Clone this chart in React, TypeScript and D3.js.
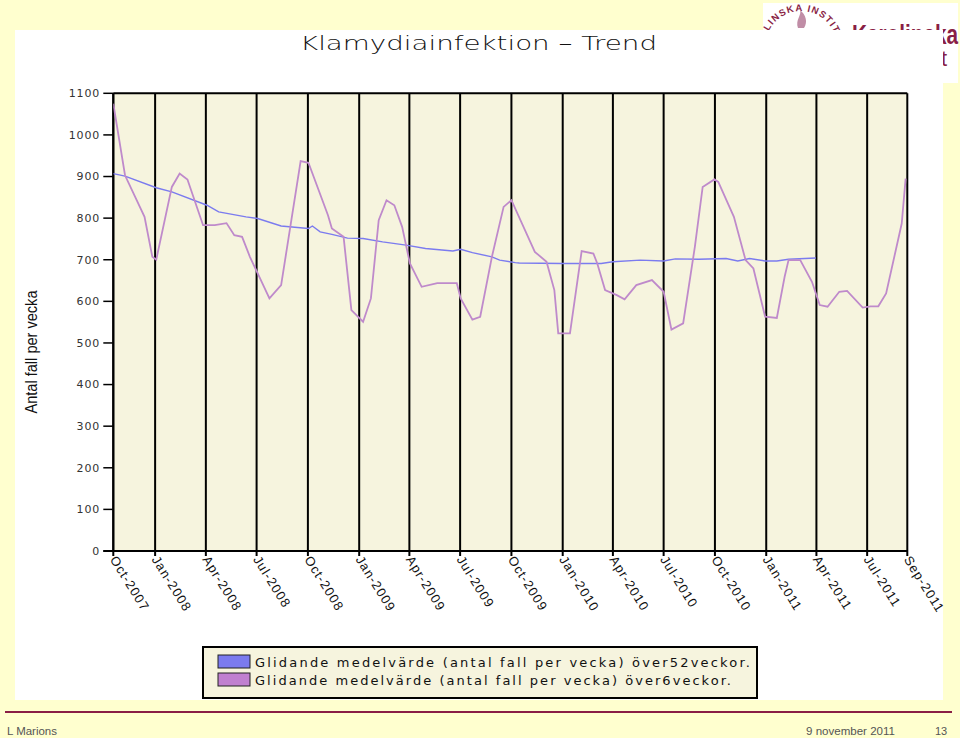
import React from "react";
import * as d3 from "d3";

// ---- data ----
const START_DATE = "2007-10-18";
const END_DATE = "2011-09-11";

const tickDates = [
  "2007-10-18", "2008-01-01", "2008-04-01", "2008-07-01", "2008-10-01",
  "2009-01-01", "2009-04-01", "2009-07-01", "2009-10-01", "2010-01-01",
  "2010-04-01", "2010-07-01", "2010-10-01", "2011-01-01", "2011-04-01",
  "2011-07-01", "2011-09-11",
];
const tickLabels = [
  "Oct-2007", "Jan-2008", "Apr-2008", "Jul-2008", "Oct-2008",
  "Jan-2009", "Apr-2009", "Jul-2009", "Oct-2009", "Jan-2010",
  "Apr-2010", "Jul-2010", "Oct-2010", "Jan-2011", "Apr-2011",
  "Jul-2011", "Sep-2011",
];
const yTicks = [0, 100, 200, 300, 400, 500, 600, 700, 800, 900, 1000, 1100];

// weeks since START_DATE, 6-week moving average
const weeks6 = [
  0, 3, 8, 10, 11, 15, 17, 19, 23, 26, 29, 31, 33, 35, 37, 40, 43, 48, 50, 55,
  56, 59, 61, 64, 66, 68, 70, 72, 74, 76, 79, 83, 88, 89, 92, 94, 97, 100, 102, 108,
  111, 113, 114, 117, 120, 123, 124, 126, 129, 131, 134, 138, 141, 143, 146, 149, 151, 154, 155, 159,
  162, 164, 167, 170, 172, 173, 176, 179, 181, 183, 186, 188, 192, 194, 196, 198, 202, 203,
];
const values6 = [
  1075, 903, 803, 707, 700, 875, 907, 893, 783, 783, 788, 759, 755, 707, 667, 607, 639, 937, 933, 807,
  775, 755, 579, 551, 607, 795, 843, 831, 779, 691, 635, 644, 644, 607, 556, 563, 707, 827, 843, 719,
  695, 627, 523, 523, 721, 715, 691, 627, 615, 605, 639, 651, 623, 532, 547, 731, 875, 893, 887, 803,
  699, 679, 563, 560, 659, 699, 699, 647, 591, 587, 623, 625, 585, 588, 588, 619, 787, 895,
];

// weeks since START_DATE, 52-week moving average
const weeks52 = [
  0, 3, 11, 15, 24, 27, 34, 37, 43, 50, 51, 53, 56, 60, 64, 69, 75, 80, 87, 89,
  92, 97, 99, 103, 104, 115, 120, 125, 128, 135, 141, 144, 150, 157, 160, 163, 167, 170, 173, 180,
];
const values52 = [
  907, 901, 873, 863, 831, 815, 803, 799, 781, 775, 781, 767, 761, 752, 751, 743, 735, 727, 721, 725,
  717, 707, 699, 693, 692, 691, 691, 691, 695, 699, 697, 702, 701, 703, 697, 703, 697, 697, 701, 704,
];

const legendLabels = [
  "Glidande medelvärde (antal fall per vecka) över52veckor.",
  "Glidande medelvärde (antal fall per vecka) över6veckor.",
];

// ---- layout ----
const W = 960;
const H = 738;
const L = 113.3;
const R = 907.3;
const T = 93.3;
const B = 551;

const PAGE_BG = "#FFFFCF";
const PLOT_BG = "#F6F4DE";
const BLUE = "#7B7BEF";
const PURPLE = "#BF8ACB";
const MAROON = "#8A1F45";

export default function App() {
  const parse = d3.timeParse("%Y-%m-%d");
  const start = parse(START_DATE) as Date;
  const end = parse(END_DATE) as Date;
  const x = d3.scaleTime().domain([start, end]).range([L, R]);
  const y = d3.scaleLinear().domain([0, 1100]).range([B, T]);
  const toDate = (w: number) => d3.timeDay.offset(start, w * 7);

  const line = d3
    .line<[number, number]>()
    .x((d) => x(toDate(d[0])))
    .y((d) => y(d[1]));

  const s6 = weeks6.map((w, i) => [w, values6[i]] as [number, number]);
  const s52 = weeks52.map((w, i) => [w, values52[i]] as [number, number]);
  const ticks = tickDates.map((d) => parse(d) as Date);

  const seal = `M 765 47 A 36 36 0 0 1 837 47`;

  return (
    <svg
      width={W}
      height={H}
      style={{ position: "absolute", left: 0, top: 0, display: "block" }}
      xmlns="http://www.w3.org/2000/svg"
    >
      <defs>
        <clipPath id="plotClip">
          <rect x={L} y={T} width={R - L} height={B - T} />
        </clipPath>
        <path id="sealArc" d={seal} fill="none" />
      </defs>
      <rect x={0} y={0} width={W} height={H} fill={PAGE_BG} />

      {/* logo */}
      <g>
        <rect x={763} y={3} width={195} height={80} fill="#FFFFFF" />
        <text
          fontFamily="Liberation Sans, Arial, sans-serif"
          fontSize={9.5}
          fontWeight={700}
          fill={MAROON}
          letterSpacing={1.2}
        >
          <textPath href="#sealArc" startOffset="50%" textAnchor="middle">
            KAROLINSKA INSTITUTET
          </textPath>
        </text>
        <path d="M 798 28 C 795 20 802 15 800 10 C 806 15 808 22 804 28 Z" fill="#B07090" opacity={0.8} />
        <text
          x={852}
          y={44}
          fontFamily="Liberation Sans, Arial, sans-serif"
          fontSize={27}
          fontWeight={700}
          fill={MAROON}
          textLength={106}
          lengthAdjust="spacingAndGlyphs"
        >
          Karolinska
        </text>
        <text
          x={947}
          y={66}
          textAnchor="end"
          fontFamily="Liberation Sans, Arial, sans-serif"
          fontSize={22}
          fill={MAROON}
        >
          Institutet
        </text>
      </g>

      {/* white chart panel */}
      <rect x={15} y={30} width={928} height={670} fill="#FFFFFF" />

      {/* title */}
      <text
        x={478.5}
        y={50}
        textAnchor="middle"
        fontFamily="DejaVu Sans, Verdana, sans-serif"
        fontWeight={300}
        fontSize={20}
        fill="#111"
        textLength={357}
        lengthAdjust="spacingAndGlyphs"
      >
        Klamydiainfektion – Trend
      </text>

      {/* plot background */}
      <rect x={L} y={T} width={R - L} height={B - T} fill={PLOT_BG} />

      {/* vertical grid lines at ticks */}
      {ticks.map((d, i) => (
        <line
          key={"g" + i}
          x1={x(d)}
          x2={x(d)}
          y1={T}
          y2={B + 5}
          stroke="#000"
          strokeWidth={2}
        />
      ))}
      {/* frame top & bottom */}
      <line x1={L} x2={R} y1={T} y2={T} stroke="#000" strokeWidth={2} />
      <line x1={L - 10} x2={R} y1={B} y2={B} stroke="#000" strokeWidth={2} />
      <line x1={L} x2={L} y1={T} y2={B} stroke="#000" strokeWidth={2} />

      {/* y ticks */}
      {yTicks.map((v) => (
        <g key={"y" + v}>
          <line x1={L - 10} x2={L} y1={y(v)} y2={y(v)} stroke="#000" strokeWidth={1.5} />
          <text
            x={100}
            y={y(v)}
            dy="0.35em"
            textAnchor="end"
            fontFamily="DejaVu Sans, Verdana, sans-serif"
            fontSize={11}
            letterSpacing={0.8}
            fill="#333"
          >
            {v}
          </text>
        </g>
      ))}

      {/* y axis title */}
      <text
        transform="translate(31,352) rotate(-90)"
        textAnchor="middle"
        fontFamily="Liberation Sans Narrow, Liberation Sans, Arial, sans-serif"
        fontSize={16}
        fill="#111"
        dy="0.35em"
        textLength={123}
        lengthAdjust="spacingAndGlyphs"
      >
        Antal fall per vecka
      </text>

      {/* x tick labels */}
      {ticks.map((d, i) => {
        const px = x(d);
        const py = 557;
        return (
          <text
            key={"xl" + i}
            x={px}
            y={py}
            dy="0.35em"
            transform={`rotate(58, ${px}, ${py})`}
            fontFamily="Liberation Sans, Arial, sans-serif"
            fontSize={13}
            letterSpacing={1.1}
            fill="#111"
          >
            {tickLabels[i]}
          </text>
        );
      })}

      {/* series */}
      <g clipPath="url(#plotClip)">
        <path d={line(s52) || ""} fill="none" stroke={BLUE} strokeWidth={1.4} />
        <path d={line(s6) || ""} fill="none" stroke={PURPLE} strokeWidth={1.8} />
      </g>

      {/* legend */}
      <rect x={203} y={647} width={554} height={51} fill={PLOT_BG} stroke="#000" strokeWidth={2} />
      {[BLUE, "#C080D0"].map((c, i) => (
        <g key={"lg" + i}>
          <rect x={218} y={655 + i * 18} width={32} height={13} fill={c} stroke="#222" strokeWidth={1} />
          <text
            x={255}
            y={667 + i * 18}
            fontFamily="DejaVu Sans, Verdana, sans-serif"
            fontSize={13}
            fill="#111"
            textLength={i === 0 ? 495 : 476}
            lengthAdjust="spacing"
          >
            {legendLabels[i]}
          </text>
        </g>
      ))}

      {/* footer */}
      <line x1={5} x2={952} y1={712} y2={712} stroke={MAROON} strokeWidth={2} />
      <text
        x={7}
        y={735}
        fontFamily="Liberation Sans, Arial, sans-serif"
        fontSize={11}
        fill="#555"
        textLength={50}
        lengthAdjust="spacingAndGlyphs"
      >
        L Marions
      </text>
      <text
        x={806}
        y={735}
        fontFamily="Liberation Sans, Arial, sans-serif"
        fontSize={11}
        fill="#555"
        textLength={89}
        lengthAdjust="spacingAndGlyphs"
      >
        9 november 2011
      </text>
      <text
        x={935}
        y={735}
        fontFamily="Liberation Sans, Arial, sans-serif"
        fontSize={11}
        fill="#555"
      >
        13
      </text>
    </svg>
  );
}
